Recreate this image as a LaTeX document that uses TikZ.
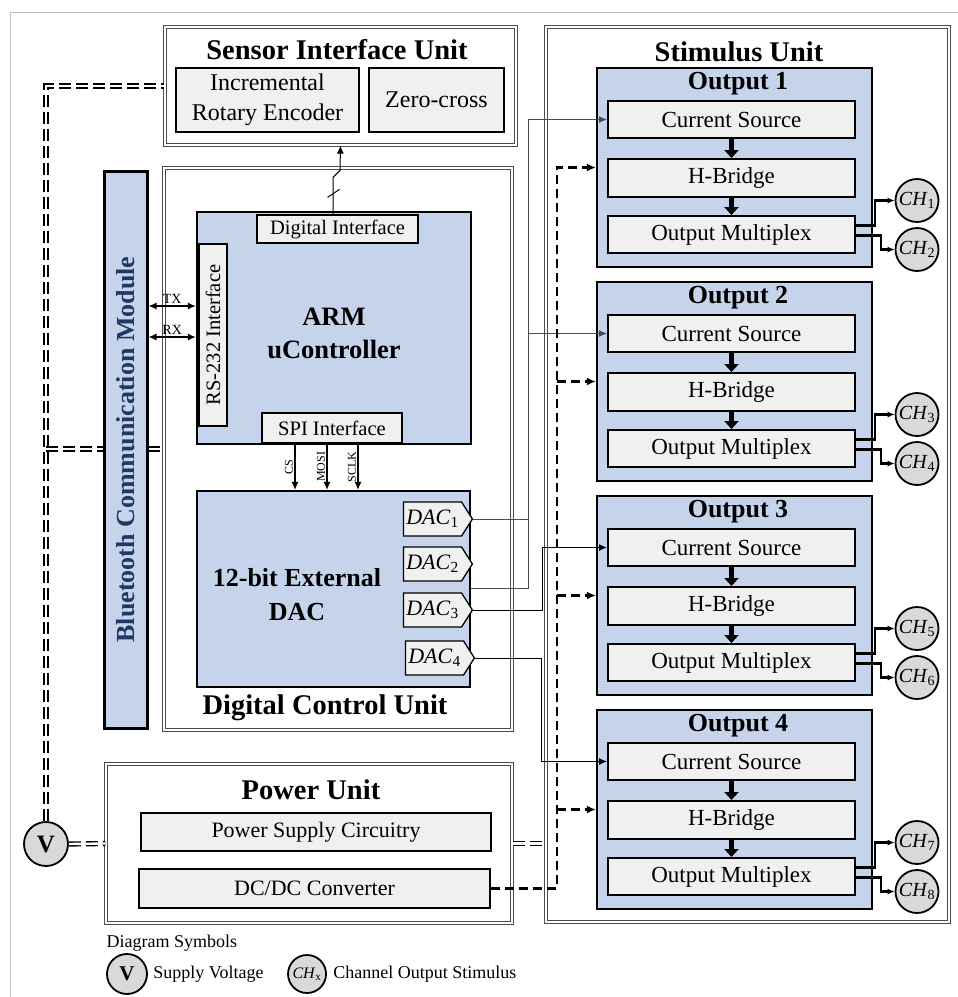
\documentclass[tikz,border=0pt]{standalone}
\usepackage{fontspec}
\setmainfont{Liberation Serif}
\usetikzlibrary{arrows.meta, positioning, shapes.symbols}

\definecolor{blockblue}{RGB}{197,211,235}
\definecolor{boxgray}{RGB}{240,240,240}
\definecolor{chgray}{RGB}{217,217,217}
\definecolor{btnavy}{RGB}{31,56,100}

\newcommand{\sym}[2]{\textit{#1}\textsubscript{#2}}

\begin{document}
\begin{tikzpicture}[
      x=1pt, y=-1pt,
      unitframe/.style={rectangle, draw=black!70, double=white, double distance=1.8pt, line width=1.1pt, fill=white},
      bluebox/.style={rectangle, draw=black, line width=2.2pt, fill=blockblue},
      graybox/.style={rectangle, draw=black, line width=2pt, fill=boxgray, align=center, inner sep=0pt, font=\fontsize{23}{29}\selectfont},
      ifbox/.style={rectangle, draw=black, line width=1.3pt, fill=boxgray, inner sep=0pt, font=\fontsize{20.5}{24}\selectfont},
      unittitle/.style={font=\bfseries\fontsize{28.5}{33}\selectfont, align=center},
      outtitle/.style={font=\bfseries\fontsize{26}{30}\selectfont},
      dacbox/.style={signal, signal to=east, signal pointer angle=115, draw=black, line width=1.3pt, fill=boxgray, minimum width=69, minimum height=34, inner sep=0pt, font=\fontsize{22}{24}\selectfont},
      chnode/.style={circle, draw=black, line width=1.8pt, fill=chgray, minimum size=43, inner sep=0pt, font=\fontsize{20}{22}\selectfont},
      supply/.style={draw=black, double=white, double distance=2.4pt, line width=1.4pt, dash pattern=on 12pt off 5pt},
      pwrline/.style={line width=2.4pt, dash pattern=on 9pt off 5pt},
      sigline/.style={draw=black!70, line width=1pt, -{Latex[length=8pt, width=7pt]}},
      spiline/.style={line width=1.2pt, -{Latex[length=8pt, width=7pt]}},
      txrx/.style={line width=1.4pt, {Latex[length=8pt, width=7pt]}-{Latex[length=8pt, width=7pt]}},
      chline/.style={line width=2.4pt, -{Latex[length=7pt, width=6pt]}},
      fatarrow/.style={line width=5pt, -{Triangle[length=8pt, width=14pt]}},
      smalllabel/.style={font=\fontsize{14}{16}\selectfont, inner sep=1.5pt},
      legendtext/.style={font=\fontsize{18}{20}\selectfont}
      ]

      % Page and frame
      \fill[white] (0,0) rectangle (958,997);
      \useasboundingbox (0,0) rectangle (958,997);
      \draw[gray!50, line width=1pt] (10,997) -- (10,12) -- (958,12);

      % Units
      \node[unitframe, minimum width=351, minimum height=118] (sensor) at (340.5,86) {};
      \node[unitframe, minimum width=403, minimum height=895] (stim) at (747.5,474.5) {};
      \node[unitframe, minimum width=348, minimum height=562] (dcu) at (338,449) {};
      \node[unitframe, minimum width=406, minimum height=159] (power) at (309,843.5) {};

      % Supply voltage and its bus
      \node[chnode, minimum size=44, font=\bfseries\fontsize{25}{27}\selectfont] (v) at (46,844) {V};
      \draw[supply] (v.north) |- (sensor.west);
      \draw[supply] (v.north |- dcu.west) -- (dcu.west);
      \draw[supply] (v.east) -- (power.west);
      \draw[supply] (power.east) -- (power.east -| stim.west);

      % Bluetooth module
      \node[bluebox, line width=3pt, rotate=90, minimum width=557, minimum height=43, text=btnavy, font=\bfseries\fontsize{26}{30}\selectfont] (bt) at (125.5,449.5) {Bluetooth Communication Module};

      % Sensor Interface Unit
      \node[unittitle] (sensortitle) at (337,50) {Sensor Interface Unit};
      \node[graybox, font=\fontsize{24}{30}\selectfont, minimum width=183, minimum height=64] (encoder) at (267.5,100) {Incremental\\Rotary Encoder};
      \node[graybox, font=\fontsize{24}{30}\selectfont, minimum width=135, minimum height=64] (zerocross) at (436.5,100) {Zero-cross};

      % Digital Control Unit
      \node[unittitle] (dcutitle) at (325,708) {Digital Control Unit};
      \node[bluebox, minimum width=274, minimum height=232] (arm) at (334,328) {};
      \node[unittitle, font=\bfseries\fontsize{26.5}{33}\selectfont] (armtext) at (334,333) {ARM\\uController};
      \node[ifbox, minimum width=161, minimum height=28] (di) at (337.5,229) {Digital Interface};
      \node[ifbox, rotate=90, minimum width=182, minimum height=28] (rs232) at (213,335) {RS-232 Interface};
      \node[ifbox, minimum width=140, minimum height=30] (spi) at (332,428) {SPI Interface};

      \node[bluebox, minimum width=273, minimum height=196] (extdac) at (333.5,589) {};
      \node[unittitle, font=\bfseries\fontsize{26}{34}\selectfont] (dactext) at (297,595) {12-bit External\\DAC};
      \node[dacbox] (dac1) at (432.5,519) {\sym{DAC}{1}};
      \node[dacbox] (dac2) at (432.5,564) {\sym{DAC}{2}};
      \node[dacbox] (dac3) at (432.5,610) {\sym{DAC}{3}};
      \node[dacbox] (dac4) at (434.5,658) {\sym{DAC}{4}};
      \coordinate (dac2out) at (470,588);

      % Power Unit
      \node[unittitle] (powertitle) at (311,790) {Power Unit};
      \node[graybox, font=\fontsize{22}{26}\selectfont, minimum width=350, minimum height=38] (psc) at (316,832) {Power Supply Circuitry};
      \node[graybox, font=\fontsize{22}{26}\selectfont, minimum width=351, minimum height=39] (dcdc) at (314.5,888.5) {DC/DC Converter};

      % Stimulus Unit
      \node[unittitle] (stimtitle) at (739,52) {Stimulus Unit};
      \foreach \i in {1,...,4}{
        \pgfmathsetmacro{\ty}{68+214*(\i-1)}
        \pgfmathtruncatemacro{\ca}{2*\i-1}
        \pgfmathtruncatemacro{\cb}{2*\i}
        \node[bluebox, minimum width=275, minimum height=199] (out\i) at (734.5,\ty+99.5) {};
        \node[outtitle] (outtitle\i) at (738,\ty+16) {Output \i};
        \node[graybox, minimum width=247, minimum height=37] (cs\i) at (731.5,\ty+51.5) {Current Source};
        \node[graybox, minimum width=247, minimum height=38] (hb\i) at (731.5,\ty+110) {H-Bridge};
        \node[graybox, minimum width=247, minimum height=37] (om\i) at (731.5,\ty+166.5) {Output Multiplex};
        \node[chnode] (ch\ca) at (917,\ty+132.5) {\sym{CH}{\ca}};
        \node[chnode] (ch\cb) at (917,\ty+181.5) {\sym{CH}{\cb}};
        \draw[fatarrow] (cs\i) -- (hb\i);
        \draw[fatarrow] (hb\i) -- (om\i);
        \draw[chline] ([yshift=9]om\i.east) -- ++(19,0) |- (ch\ca.west);
        \draw[chline] ([yshift=-1]om\i.east) -- ++(25,0) |- (ch\cb.west);
      }

      % Digital signals
      \draw[sigline, draw=black] ([xshift=-4.5]di.north) -- ++(0,-37) -- ++(7,-7) -- (sensor.south);
      \draw[line width=1pt] ([shift={(-10,-17)}]di.north) -- ++(12,-8);
      \draw[txrx] (bt.south |- 0,306) -- (arm.west |- 0,306) node[midway, above, smalllabel] {TX};
      \draw[txrx] (bt.south |- 0,337) -- (arm.west |- 0,337) node[midway, above, smalllabel] {RX};
      \foreach \x/\lab in {295/CS, 327/MOSI, 358/SCLK}
        \draw[spiline] (spi.south -| \x,0) -- (extdac.north -| \x,0) node[midway, rotate=90, anchor=south, smalllabel, font=\fontsize{12}{14}\selectfont] {\lab};

      % DAC outputs to current sources
      \draw[sigline] (dac1.east) -- ++(55,0) |- (cs1.west);
      \draw[sigline] (dac2out) -- ++(58,0) |- (cs2.west);
      \draw[sigline, draw=black] (dac3.east) -- ++(69,0) |- (cs3.west);
      \draw[sigline, draw=black] (dac4.east) -- ++(66,0) |- (cs4.west);

      % Converter supply to outputs
      \draw[pwrline, -{Latex[length=9pt, width=8pt]}] (dcdc.east) -| ([xshift=-39]out1.west) -- (out1.west);
      \foreach \i in {2,3,4}
        \draw[pwrline, -{Latex[length=9pt, width=8pt]}] ([xshift=-39]out\i.west) -- (out\i.west);

      % Diagram symbols
      \node[legendtext, anchor=west] (legtitle) at (103,943) {Diagram Symbols};
      \node[chnode, minimum size=40, font=\bfseries\fontsize{21}{23}\selectfont] (legv) at (127,974) {V};
      \node[legendtext, right=2pt of legv] (legvtext) {Supply Voltage};
      \node[chnode, minimum size=38, font=\fontsize{16}{18}\selectfont, right=20pt of legvtext] (legch) {\sym{CH}{x}};
      \node[legendtext, right=3pt of legch] (legchtext) {Channel Output Stimulus};

   \end{tikzpicture}
\end{document}
